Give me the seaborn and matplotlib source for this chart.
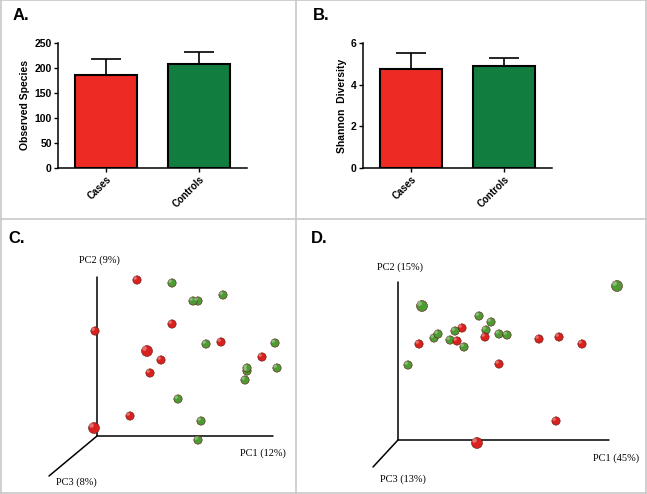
import numpy as np
import pandas as pd
import seaborn as sns
import matplotlib.pyplot as plt
from matplotlib.lines import Line2D

# bar panels (A, B)
groups = ["Cases", "Controls"]
observed_species = [186, 207]
observed_err = [32, 24]
shannon = [4.75, 4.9]
shannon_err = [0.77, 0.40]

# PCoA panels (C, D): projected PC1 / PC2 positions
c_red_x = [40, -2, 75, 50, 64, 53, 124, 165, 33, -3]
c_red_y = [156, 105, 112, 85, 76, 63, 94, 79, 20, 8]
c_green_x = [75, 96, 101, 126, 109, 178, 150, 150, 180, 148, 81, 104, 101]
c_green_y = [153, 135, 135, 141, 92, 93, 68, 65, 68, 56, 37, 15, -4]
c_near = {"Cases": [3, 9], "Controls": []}

d_red_x = [64, 59, 87, 21, 141, 161, 184, 101, 158, 79]
d_red_y = [112, 99, 103, 96, 101, 103, 96, 76, 19, -3]
d_green_x = [219, 24, 81, 93, 88, 57, 40, 36, 52, 66, 101, 109, 10]
d_green_y = [154, 134, 124, 118, 110, 109, 106, 102, 100, 93, 106, 105, 75]
d_near = {"Cases": [9], "Controls": [0, 1]}

c_labels = ["PC1 (12%)", "PC2 (9%)", "PC3 (8%)"]
d_labels = ["PC1 (45%)", "PC2 (15%)", "PC3 (13%)"]

bar_palette = {"Cases": "#EE2A24", "Controls": "#117E40"}
ball_palette = {"Cases": "#D9211E", "Controls": "#4E9A35"}

sns.set_style("ticks", {"text.color": "black", "axes.labelcolor": "black",
                        "xtick.color": "black", "ytick.color": "black",
                        "axes.edgecolor": "black"})
plt.rcParams["font.family"] = ["Liberation Sans", "DejaVu Sans"]

W, H = 647, 494
fig = plt.figure(figsize=(W / 100, H / 100), dpi=100)


def px_rect(x0, y0, x1, y1):
    return [x0 / W, 1 - y1 / H, (x1 - x0) / W, (y1 - y0) / H]


def bar_panel(rect, values, errs, ylabel, ylim, yticks):
    ax = fig.add_axes(rect)
    df = pd.DataFrame({"group": groups, "value": values})
    sns.barplot(data=df, x="group", y="value", hue="group", palette=bar_palette,
                saturation=1, width=0.66, edgecolor="black", linewidth=1.5,
                legend=False, ax=ax)
    ax.errorbar(range(len(groups)), values, yerr=[[0] * len(errs), errs], fmt="none",
                ecolor="black", elinewidth=1.2, capsize=10.5, capthick=1.2, zorder=0.5)
    ax.set_xlim(-0.51, 1.51)
    ax.set_ylim(*ylim)
    ax.set_yticks(yticks)
    ax.set_xlabel("")
    ax.set_ylabel(ylabel, fontsize=7.5, fontweight="bold", labelpad=3)
    ax.tick_params(direction="out", length=3, width=1, pad=1.5)
    for lab in ax.get_yticklabels():
        lab.set_fontsize(7.5)
        lab.set_fontweight("bold")
    ax.set_xticks(range(len(groups)))
    ax.set_xticklabels(groups, rotation=45, ha="right", rotation_mode="anchor",
                       fontsize=7, fontweight="bold")
    for s in ["left", "bottom"]:
        ax.spines[s].set_linewidth(1.1)
    sns.despine(ax=ax)
    return ax


bar_panel(px_rect(58, 43, 247, 168), observed_species, observed_err,
          "Observed Species", (0, 250), [0, 50, 100, 150, 200, 250])
bar_panel(px_rect(363, 43, 552, 168), shannon, shannon_err,
          "Shannon  Diversity", (0, 6), [0, 2, 4, 6])


def pcoa_panel(rect, origin, red_x, red_y, green_x, green_y, near, labels,
               ends, label_pos):
    x0, y0, x1, y1 = rect
    ox, oy = origin
    ax = fig.add_axes(px_rect(x0, y0, x1, y1))
    ax.set_xlim(x0 - ox, x1 - ox)
    ax.set_ylim(oy - y1, oy - y0)
    ax.axis("off")
    # axes of the 3D view
    pc1_end, pc2_end, pc3_end = ends
    ax.plot([0, pc1_end], [0, 0], color="black", lw=1.1)
    ax.plot([0, 0], [0, pc2_end], color="black", lw=1.1)
    ax.plot([0, pc3_end[0]], [0, pc3_end[1]], color="black", lw=1.1)
    for txt, (tx, ty) in zip(labels, label_pos):
        ax.text(tx, ty, txt, ha="center", va="center", fontsize=7.5,
                family=["Liberation Serif", "DejaVu Serif"])

    df = pd.concat([
        pd.DataFrame({"pc1": red_x, "pc2": red_y, "group": "Cases",
                      "near": [i in near["Cases"] for i in range(len(red_x))]}),
        pd.DataFrame({"pc1": green_x, "pc2": green_y, "group": "Controls",
                      "near": [i in near["Controls"] for i in range(len(green_x))]}),
    ], ignore_index=True)
    df["sz"] = np.where(df["near"], 62, 36)
    # draw back to front so nearer balls sit on top
    df = df.sort_values("near")
    sns.scatterplot(data=df, x="pc1", y="pc2", hue="group", palette=ball_palette,
                    size="sz", sizes=(36, 62), edgecolor="#5a1a10", linewidth=0.4,
                    legend=False, ax=ax, zorder=3)
    # soft highlight to give the balls some volume
    r = np.sqrt(df["sz"]) * 0.32
    ax.scatter(df["pc1"] - r, df["pc2"] + r, s=df["sz"] * 0.18, color="white",
               alpha=0.35, linewidths=0, zorder=4)
    ax.set_xlabel("")
    ax.set_ylabel("")
    return ax


pcoa_panel((0, 219, 296, 494), (97, 436), c_red_x, c_red_y, c_green_x, c_green_y,
           c_near, c_labels, (176, 159, (-48, -40)),
           [(166, -17), (2, 176), (-21, -46)])
pcoa_panel((296, 219, 647, 494), (398, 440), d_red_x, d_red_y, d_green_x, d_green_y,
           d_near, d_labels, (211, 158, (-25, -27)),
           [(218, -18), (2, 173), (5, -39)])

# panel letters
for letter, (lx, ly) in zip(["A.", "B.", "C.", "D."],
                            [(13, 8), (313, 8), (8, 231), (311, 231)]):
    fig.text(lx / W, 1 - ly / H, letter, ha="left", va="top", fontsize=12,
             fontweight="bold")

# light grey frame and dividers
grey = "#C8C8C8"
for xs, ys in [([0.5, 0.5], [0, H]), ([W - 1, W - 1], [0, H]), ([0, W], [0.5, 0.5]),
               ([0, W], [H - 1.5, H - 1.5]), ([296, 296], [0, H]), ([0, W], [219, 219])]:
    fig.add_artist(Line2D([x / W for x in xs], [1 - y / H for y in ys],
                          color=grey, lw=1.2, transform=fig.transFigure))

fig.savefig("out.png", dpi=100)
